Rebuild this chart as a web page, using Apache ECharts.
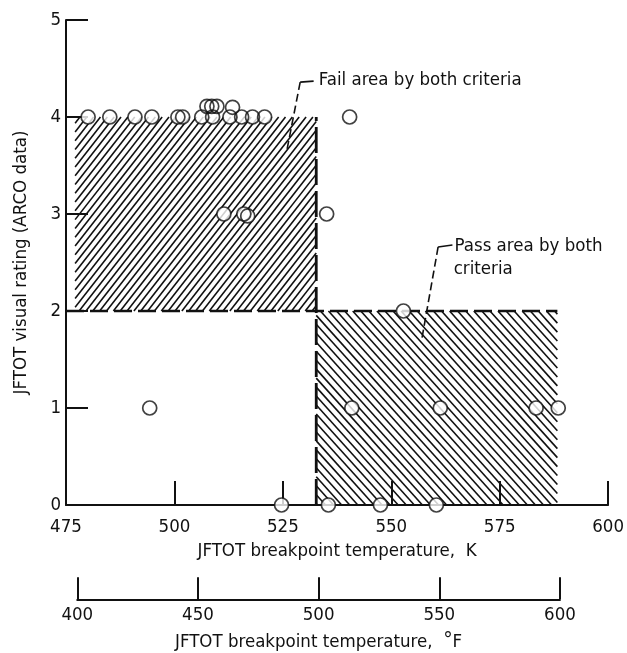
<!DOCTYPE html>
<html>
<head>
<meta charset="utf-8">
<title>JFTOT visual rating vs breakpoint temperature</title>
<script src="https://cdn.jsdelivr.net/npm/echarts@6/dist/echarts.min.js"></script>
<style>
  html, body { margin: 0; padding: 0; background: #fff; }
  #chart { width: 627px; height: 653px; }
</style>
</head>
<body>
<div id="chart"></div>
<script>
// Measured samples: breakpoint temperature (K) and JFTOT visual rating (ARCO data)
const tempK = [
  480.1, 485.1, 490.9, 494.8, 500.8, 501.9, 506.3, 507.5, 508.6, 509.8, 508.8,
  513.4, 512.8, 515.5, 518.0, 520.8, 540.4,
  511.4, 516.0, 516.9, 535.1,
  552.8,
  494.3, 540.9, 561.3, 583.4, 588.5,
  524.7, 535.5, 547.5, 560.4
];
const rating = [
  4, 4, 4, 4, 4, 4, 4, 4.11, 4.11, 4.11, 4,
  4.1, 4, 4, 4, 4, 4,
  3, 3, 2.98, 3,
  2,
  1, 1, 1, 1, 1,
  0, 0, 0, 0
];

// Criteria regions (K range, rating range)
const failAreaK = [477.1, 532.7];
const failAreaRating = [2, 4];
const passAreaK = [532.7, 588.3];
const passAreaRating = [0, 2];

// Kelvin axis and Fahrenheit axis ranges
const kelvinRange = [475, 600];
const kelvinStep = 25;
const fahrenheitRange = [400, 600];
const fahrenheitStep = 50;
const ratingRange = [0, 5];

// Callout anchors (K, rating)
const failLabelAt = [533.3, 4.38];
const failLeader = [[532.1, 4.37], [529.0, 4.36], [525.9, 3.65]];
const passLabelAt = [564.6, 2.67];
const passLabelLine2At = [564.4, 2.43];
const passLeader = [[564.1, 2.68], [560.8, 2.66], [557.0, 1.70]];

const FONT = '"Liberation Sans Narrow", "DejaVu Sans Condensed", "Roboto", sans-serif';
const FS = 18.5;
const INK = '#111';

const gridLeft = 66, gridRight = 18, gridTop = 20, gridBottom = 148;
const plotWidth = 627 - gridLeft - gridRight;
const pxPerK = plotWidth / (kelvinRange[1] - kelvinRange[0]);
const fToK = f => (f + 459.67) / 1.8;
const fLeft = gridLeft + (fToK(fahrenheitRange[0]) - kelvinRange[0]) * pxPerK;
const fRight = 627 - (gridLeft + (fToK(fahrenheitRange[1]) - kelvinRange[0]) * pxPerK);

// Parallel hatch segments clipped to a pixel rectangle
function hatchSegments(x0, y0, x1, y1, angleDeg, spacing, rising) {
  const a = angleDeg * Math.PI / 180;
  const dx = Math.cos(a), dy = rising ? -Math.sin(a) : Math.sin(a);
  const nx = -dy, ny = dx;
  const corners = [[x0, y0], [x1, y0], [x0, y1], [x1, y1]];
  const proj = corners.map(c => c[0] * nx + c[1] * ny);
  const cMin = Math.min(...proj), cMax = Math.max(...proj);
  const segs = [];
  for (let c = Math.ceil(cMin / spacing) * spacing; c <= cMax; c += spacing) {
    const px = nx * c, py = ny * c;
    let t0 = -1e6, t1 = 1e6;
    const clip = (p, q) => {
      if (Math.abs(p) < 1e-9) return q >= 0;
      const r = q / p;
      if (p < 0) { if (r > t1) return false; if (r > t0) t0 = r; }
      else { if (r < t0) return false; if (r < t1) t1 = r; }
      return true;
    };
    if (clip(-dx, px - x0) && clip(dx, x1 - px) && clip(-dy, py - y0) && clip(dy, y1 - py) && t1 > t0) {
      segs.push([px + t0 * dx, py + t0 * dy, px + t1 * dx, py + t1 * dy]);
    }
  }
  return segs;
}

function hatchRender(angleDeg, spacing, rising) {
  return function (params, api) {
    const tl = api.coord([api.value(0), api.value(3)]);
    const br = api.coord([api.value(1), api.value(2)]);
    const segs = hatchSegments(tl[0], tl[1], br[0], br[1], angleDeg, spacing, rising);
    return {
      type: 'group',
      children: segs.map(s => ({
        type: 'line',
        shape: { x1: s[0], y1: s[1], x2: s[2], y2: s[3] },
        style: { stroke: INK, lineWidth: 1.6 }
      }))
    };
  };
}

function calloutRender(lines, leader) {
  return function (params, api) {
    const children = lines.map(l => {
      const p = api.coord(l.at);
      return {
        type: 'text',
        x: p[0], y: p[1],
        style: { text: l.text, fill: INK, fontSize: FS, fontFamily: FONT, align: 'left', verticalAlign: 'middle' }
      };
    });
    const pts = leader.map(d => api.coord(d));
    children.push({
      type: 'polyline',
      shape: { points: pts.slice(0, 2) },
      style: { stroke: INK, lineWidth: 1.6, fill: null }
    });
    children.push({
      type: 'polyline',
      shape: { points: pts.slice(1) },
      style: { stroke: INK, lineWidth: 1.6, fill: null, lineDash: [8, 4] }
    });
    return { type: 'group', children };
  };
}

const points = tempK.map((k, i) => [k, rating[i]]);

const chart = echarts.init(document.getElementById('chart'), null, { renderer: 'canvas' });
chart.setOption({
  backgroundColor: '#fff',
  animation: false,
  textStyle: { fontFamily: FONT, color: INK },
  grid: [
    { left: gridLeft, right: gridRight, top: gridTop, bottom: gridBottom },
    { left: fLeft, right: fRight, top: 599, height: 1 }
  ],
  xAxis: [
    {
      gridIndex: 0, type: 'value',
      min: kelvinRange[0], max: kelvinRange[1], interval: kelvinStep,
      name: 'JFTOT breakpoint temperature,  K',
      nameLocation: 'middle', nameGap: 37,
      nameTextStyle: { fontSize: FS, fontFamily: FONT, color: INK },
      axisLine: { show: true, lineStyle: { color: INK, width: 2 } },
      axisTick: { show: true, inside: true, length: 24, lineStyle: { color: INK, width: 2 } },
      axisLabel: { fontSize: FS, fontFamily: FONT, color: INK, margin: 13 },
      splitLine: { show: false }
    },
    {
      gridIndex: 1, type: 'value',
      min: fahrenheitRange[0], max: fahrenheitRange[1], interval: fahrenheitStep,
      name: '{t|JFTOT breakpoint temperature,  }{d|°}{t|F}',
      nameLocation: 'middle', nameGap: 32,
      nameTextStyle: {
        rich: {
          t: { fontSize: FS, fontFamily: FONT, color: INK, lineHeight: 22 },
          d: { fontSize: 21, fontFamily: FONT, color: INK, lineHeight: 22, verticalAlign: 'top' }
        }
      },
      axisLine: { show: true, lineStyle: { color: INK, width: 2 } },
      axisTick: { show: true, inside: true, length: 22, lineStyle: { color: INK, width: 2 } },
      axisLabel: { fontSize: FS, fontFamily: FONT, color: INK, margin: 6 },
      splitLine: { show: false }
    }
  ],
  yAxis: [
    {
      gridIndex: 0, type: 'value',
      min: ratingRange[0], max: ratingRange[1], interval: 1,
      name: 'JFTOT visual rating (ARCO data)',
      nameLocation: 'middle', nameGap: 35,
      nameTextStyle: { fontSize: FS, fontFamily: FONT, color: INK },
      axisLine: { show: true, lineStyle: { color: INK, width: 2 } },
      axisTick: { show: true, inside: true, length: 22, lineStyle: { color: INK, width: 2 } },
      axisLabel: { fontSize: FS, fontFamily: FONT, color: INK, margin: 5 },
      splitLine: { show: false }
    },
    { gridIndex: 1, type: 'value', show: false, min: 0, max: 1 }
  ],
  series: [
    {
      name: 'Fail area', type: 'custom', xAxisIndex: 0, yAxisIndex: 0, z: 1,
      renderItem: hatchRender(52, 5.4, true),
      data: [[failAreaK[0], failAreaK[1], failAreaRating[0], failAreaRating[1]]]
    },
    {
      name: 'Pass area', type: 'custom', xAxisIndex: 0, yAxisIndex: 0, z: 1,
      renderItem: hatchRender(48, 6.0, false),
      data: [[passAreaK[0], passAreaK[1], passAreaRating[0], passAreaRating[1]]]
    },
    {
      name: 'Rating 2 boundary', type: 'line', z: 2, symbol: 'none', silent: true,
      lineStyle: { color: INK, width: 2.6, type: [18, 6] },
      data: [[kelvinRange[0], failAreaRating[0]], [passAreaK[1], passAreaRating[1]]]
    },
    {
      name: 'Temperature boundary', type: 'line', z: 2, symbol: 'none', silent: true,
      lineStyle: { color: INK, width: 2.8, type: [26, 6] },
      data: [[failAreaK[1], passAreaRating[0]], [failAreaK[1], failAreaRating[1]]]
    },
    {
      name: 'Sample fill', type: 'scatter', z: 3, symbol: 'circle', symbolSize: 14,
      itemStyle: { color: '#fff', borderWidth: 0 },
      data: points
    },
    {
      name: 'Samples', type: 'scatter', z: 4, symbol: 'circle', symbolSize: 14,
      itemStyle: { color: 'rgba(0,0,0,0)', borderColor: INK, borderWidth: 1.7 },
      data: points
    },
    {
      name: 'Fail callout', type: 'custom', z: 5, silent: true,
      renderItem: calloutRender([{ at: failLabelAt, text: 'Fail area by both criteria' }], failLeader),
      data: [[failLabelAt[0], failLabelAt[1]]]
    },
    {
      name: 'Pass callout', type: 'custom', z: 5, silent: true,
      renderItem: calloutRender([
        { at: passLabelAt, text: 'Pass area by both' },
        { at: passLabelLine2At, text: 'criteria' }
      ], passLeader),
      data: [[passLabelAt[0], passLabelAt[1]]]
    }
  ]
});
</script>
</body>
</html>
